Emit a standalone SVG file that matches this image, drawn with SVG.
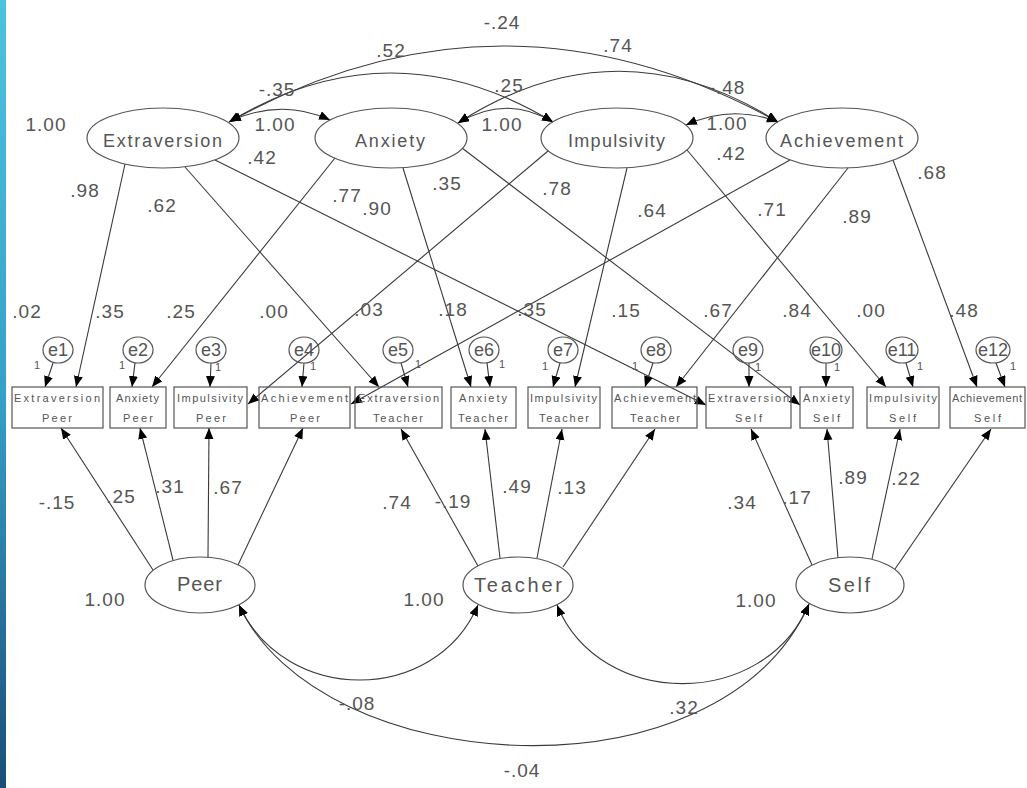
<svg xmlns="http://www.w3.org/2000/svg" width="1027" height="788" viewBox="0 0 1027 788">
<style>
.t{font-family:"Liberation Sans",Arial,sans-serif;fill:#555}
.n{font-size:19px;text-anchor:middle;letter-spacing:1px}
.fl{font-size:18px}
.ml{font-size:20px}
.ob{font-size:11px}
.el{font-size:18px;text-anchor:middle}
.one{font-size:11px;text-anchor:middle}
.sh{fill:none;stroke:#555;stroke-width:1.2}
.ln{fill:none;stroke:#3a3a3a;stroke-width:1.1}
.a{marker-end:url(#ah)}
.c{marker-end:url(#ah);marker-start:url(#ah)}
</style>
<defs>
<linearGradient id="bar" x1="0" y1="0" x2="0" y2="1">
<stop offset="0" stop-color="#4cc4de"/>
<stop offset="0.5" stop-color="#35a0c8"/>
<stop offset="1" stop-color="#1b4d7a"/>
</linearGradient>
<marker id="ah" markerUnits="userSpaceOnUse" markerWidth="12" markerHeight="10" refX="11" refY="4.5" orient="auto-start-reverse">
<path d="M0,0 L11,4.5 L0,9 z" fill="#000"/>
</marker>
</defs>
<rect x="0" y="0" width="1027" height="788" fill="#fff"/>
<rect x="0" y="0" width="6" height="788" fill="url(#bar)"/>

<g id="connectors">
<path class="ln c" d="M229,122 Q503,-30 778,122"/>
<path class="ln c" d="M229,122 Q391,24 553,122"/>
<path class="ln c" d="M458,123 Q618,20 778,122"/>
<path class="ln c" d="M230,121 Q282,98 330,120"/>
<path class="ln c" d="M458,123 Q506,94 553,122"/>
<path class="ln c" d="M686,125 Q732,104 778,122"/>
<line class="ln a" x1="125" y1="164" x2="76" y2="387"/>
<line class="ln a" x1="185" y1="167" x2="379" y2="387"/>
<line class="ln a" x1="215" y1="160" x2="706" y2="405"/>
<line class="ln a" x1="335" y1="158" x2="152" y2="387"/>
<line class="ln a" x1="403" y1="168" x2="471" y2="387"/>
<line class="ln a" x1="462" y1="148" x2="800" y2="405"/>
<line class="ln a" x1="548" y1="151" x2="248" y2="404"/>
<line class="ln a" x1="627" y1="168" x2="575" y2="387"/>
<line class="ln a" x1="687" y1="150" x2="886" y2="387"/>
<line class="ln a" x1="790" y1="160" x2="351" y2="404"/>
<line class="ln a" x1="848" y1="168" x2="676" y2="387"/>
<line class="ln a" x1="893" y1="160" x2="977" y2="387"/>
<line class="ln a" x1="53" y1="363" x2="45" y2="387"/>
<line class="ln a" x1="135" y1="363" x2="132" y2="387"/>
<line class="ln a" x1="211" y1="363" x2="210" y2="387"/>
<line class="ln a" x1="304" y1="363" x2="302" y2="387"/>
<line class="ln a" x1="401" y1="363" x2="408" y2="387"/>
<line class="ln a" x1="487" y1="363" x2="490" y2="387"/>
<line class="ln a" x1="560" y1="363" x2="553" y2="387"/>
<line class="ln a" x1="653" y1="363" x2="645" y2="387"/>
<line class="ln a" x1="749" y1="363" x2="749" y2="387"/>
<line class="ln a" x1="826" y1="363" x2="826" y2="387"/>
<line class="ln a" x1="906" y1="363" x2="913" y2="387"/>
<line class="ln a" x1="996" y1="363" x2="1005" y2="387"/>
<line class="ln a" x1="153" y1="570" x2="61" y2="428"/>
<line class="ln a" x1="173" y1="560" x2="140" y2="428"/>
<line class="ln a" x1="208" y1="557" x2="209" y2="428"/>
<line class="ln a" x1="238" y1="565" x2="303" y2="428"/>
<line class="ln a" x1="478" y1="566" x2="401" y2="429"/>
<line class="ln a" x1="500" y1="558" x2="485" y2="429"/>
<line class="ln a" x1="537" y1="558" x2="562" y2="429"/>
<line class="ln a" x1="563" y1="567" x2="655" y2="429"/>
<line class="ln a" x1="812" y1="565" x2="751" y2="429"/>
<line class="ln a" x1="838" y1="558" x2="827" y2="429"/>
<line class="ln a" x1="872" y1="559" x2="900" y2="429"/>
<line class="ln a" x1="895" y1="569" x2="991" y2="429"/>
<path class="ln c" d="M239,605 C285,705 435,705 478,605"/>
<path class="ln c" d="M557,605 C600,710 765,710 809,604"/>
<path class="ln c" d="M239,605 C320,780 720,805 809,604"/>
</g>

<g id="labels">
<text class="t n" x="502" y="29">-.24</text>
<text class="t n" x="391" y="57">.52</text>
<text class="t n" x="618" y="52">.74</text>
<text class="t n" x="277" y="96">-.35</text>
<text class="t n" x="509" y="92">.25</text>
<text class="t n" x="727" y="94">-.48</text>
<text class="t n" x="46" y="131">1.00</text>
<text class="t n" x="275" y="131">1.00</text>
<text class="t n" x="502" y="131">1.00</text>
<text class="t n" x="727" y="130">1.00</text>
<text class="t n" x="262" y="164">.42</text>
<text class="t n" x="731" y="160">.42</text>
<text class="t n" x="85" y="197">.98</text>
<text class="t n" x="162" y="212">.62</text>
<text class="t n" x="347" y="202">.77</text>
<text class="t n" x="377" y="215">.90</text>
<text class="t n" x="447" y="190">.35</text>
<text class="t n" x="557" y="195">.78</text>
<text class="t n" x="652" y="217">.64</text>
<text class="t n" x="772" y="216">.71</text>
<text class="t n" x="857" y="223">.89</text>
<text class="t n" x="932" y="179">.68</text>
<text class="t n" x="27" y="318">.02</text>
<text class="t n" x="110" y="318">.35</text>
<text class="t n" x="181" y="318">.25</text>
<text class="t n" x="274" y="318">.00</text>
<text class="t n" x="369" y="316">.03</text>
<text class="t n" x="453" y="316">.18</text>
<text class="t n" x="532" y="316">.35</text>
<text class="t n" x="626" y="317">.15</text>
<text class="t n" x="718" y="317">.67</text>
<text class="t n" x="797" y="317">.84</text>
<text class="t n" x="871" y="317">.00</text>
<text class="t n" x="964" y="317">.48</text>
<text class="t n" x="57" y="509">-.15</text>
<text class="t n" x="121" y="503">.25</text>
<text class="t n" x="170" y="493">.31</text>
<text class="t n" x="228" y="494">.67</text>
<text class="t n" x="397" y="509">.74</text>
<text class="t n" x="453" y="508">-.19</text>
<text class="t n" x="517" y="493">.49</text>
<text class="t n" x="572" y="494">.13</text>
<text class="t n" x="742" y="509">.34</text>
<text class="t n" x="797" y="504">.17</text>
<text class="t n" x="853" y="484">.89</text>
<text class="t n" x="906" y="485">.22</text>
<text class="t n" x="105" y="606">1.00</text>
<text class="t n" x="424" y="606">1.00</text>
<text class="t n" x="756" y="607">1.00</text>
<text class="t n" x="357" y="710">-.08</text>
<text class="t n" x="684" y="714">.32</text>
<text class="t n" x="522" y="777">-.04</text>
<text class="t one" x="37" y="369">1</text>
<text class="t one" x="122" y="369">1</text>
<text class="t one" x="218" y="371">1</text>
<text class="t one" x="313" y="370">1</text>
<text class="t one" x="418" y="368">1</text>
<text class="t one" x="502" y="368">1</text>
<text class="t one" x="545" y="370">1</text>
<text class="t one" x="635" y="370">1</text>
<text class="t one" x="758" y="371">1</text>
<text class="t one" x="837" y="371">1</text>
<text class="t one" x="920" y="370">1</text>
<text class="t one" x="1013" y="370">1</text>
</g>

<g id="Extraversion"><ellipse class="sh" cx="163" cy="138" rx="76" ry="30"/><text class="t fl" x="103" y="147" textLength="119" lengthAdjust="spacing">Extraversion</text></g>
<g id="Anxiety"><ellipse class="sh" cx="391" cy="138" rx="76" ry="30"/><text class="t fl" x="355" y="147" textLength="70" lengthAdjust="spacing">Anxiety</text></g>
<g id="Impulsivity"><ellipse class="sh" cx="617" cy="138" rx="76" ry="30"/><text class="t fl" x="568" y="147" textLength="97" lengthAdjust="spacing">Impulsivity</text></g>
<g id="Achievement"><ellipse class="sh" cx="842" cy="138" rx="76" ry="30"/><text class="t fl" x="780" y="147" textLength="123" lengthAdjust="spacing">Achievement</text></g>

<g id="Peer"><ellipse class="sh" cx="200" cy="585" rx="55" ry="28"/><text class="t ml" x="177" y="591" textLength="45" lengthAdjust="spacing">Peer</text></g>
<g id="Teacher"><ellipse class="sh" cx="518" cy="585" rx="55" ry="28"/><text class="t ml" x="474" y="592" textLength="88" lengthAdjust="spacing">Teacher</text></g>
<g id="Self"><ellipse class="sh" cx="850" cy="585" rx="54" ry="28"/><text class="t ml" x="828" y="592" textLength="42" lengthAdjust="spacing">Self</text></g>

<g id="e1"><ellipse class="sh" cx="58" cy="350" rx="15" ry="13"/><text class="t el" x="58" y="356">e1</text></g>
<g id="e2"><ellipse class="sh" cx="138" cy="350" rx="15" ry="13"/><text class="t el" x="138" y="356">e2</text></g>
<g id="e3"><ellipse class="sh" cx="211" cy="350" rx="15" ry="13"/><text class="t el" x="211" y="356">e3</text></g>
<g id="e4"><ellipse class="sh" cx="304" cy="350" rx="15" ry="13"/><text class="t el" x="304" y="356">e4</text></g>
<g id="e5"><ellipse class="sh" cx="398" cy="350" rx="15" ry="13"/><text class="t el" x="398" y="356">e5</text></g>
<g id="e6"><ellipse class="sh" cx="484" cy="350" rx="15" ry="13"/><text class="t el" x="484" y="356">e6</text></g>
<g id="e7"><ellipse class="sh" cx="563" cy="350" rx="15" ry="13"/><text class="t el" x="563" y="356">e7</text></g>
<g id="e8"><ellipse class="sh" cx="656" cy="350" rx="15" ry="13"/><text class="t el" x="656" y="356">e8</text></g>
<g id="e9"><ellipse class="sh" cx="748" cy="350" rx="15" ry="13"/><text class="t el" x="748" y="356">e9</text></g>
<g id="e10"><ellipse class="sh" cx="826" cy="350" rx="16" ry="13"/><text class="t el" x="826" y="356">e10</text></g>
<g id="e11"><ellipse class="sh" cx="902" cy="350" rx="16" ry="13"/><text class="t el" x="902" y="356">e11</text></g>
<g id="e12"><ellipse class="sh" cx="993" cy="350" rx="17" ry="13"/><text class="t el" x="993" y="356">e12</text></g>

<g id="ExtraversionPeer"><rect class="sh" x="12" y="387" width="91" height="41"/><text class="t ob" x="14" y="402" textLength="86" lengthAdjust="spacing">Extraversion</text><text class="t ob" x="42" y="422" textLength="30" lengthAdjust="spacing">Peer</text></g>
<g id="AnxietyPeer"><rect class="sh" x="110" y="387" width="56" height="41"/><text class="t ob" x="116" y="402" textLength="43" lengthAdjust="spacing">Anxiety</text><text class="t ob" x="123" y="422" textLength="30" lengthAdjust="spacing">Peer</text></g>
<g id="ImpulsivityPeer"><rect class="sh" x="174" y="387" width="73" height="41"/><text class="t ob" x="177" y="402" textLength="66" lengthAdjust="spacing">Impulsivity</text><text class="t ob" x="196" y="422" textLength="30" lengthAdjust="spacing">Peer</text></g>
<g id="AchievementPeer"><rect class="sh" x="259" y="387" width="91" height="41"/><text class="t ob" x="261" y="402" textLength="87" lengthAdjust="spacing">Achievement</text><text class="t ob" x="290" y="422" textLength="30" lengthAdjust="spacing">Peer</text></g>
<g id="ExtraversionTeacher"><rect class="sh" x="355" y="387" width="87" height="41"/><text class="t ob" x="358" y="402" textLength="81" lengthAdjust="spacing">Extraversion</text><text class="t ob" x="373" y="422" textLength="50" lengthAdjust="spacing">Teacher</text></g>
<g id="AnxietyTeacher"><rect class="sh" x="451" y="387" width="65" height="41"/><text class="t ob" x="459" y="402" textLength="48" lengthAdjust="spacing">Anxiety</text><text class="t ob" x="458" y="422" textLength="50" lengthAdjust="spacing">Teacher</text></g>
<g id="ImpulsivityTeacher"><rect class="sh" x="528" y="387" width="72" height="41"/><text class="t ob" x="530" y="402" textLength="67" lengthAdjust="spacing">Impulsivity</text><text class="t ob" x="539" y="422" textLength="50" lengthAdjust="spacing">Teacher</text></g>
<g id="AchievementTeacher"><rect class="sh" x="612" y="387" width="85" height="41"/><text class="t ob" x="614" y="402" textLength="82" lengthAdjust="spacing">Achievement</text><text class="t ob" x="630" y="422" textLength="50" lengthAdjust="spacing">Teacher</text></g>
<g id="ExtraversionSelf"><rect class="sh" x="706" y="387" width="85" height="41"/><text class="t ob" x="708" y="402" textLength="81" lengthAdjust="spacing">Extraversion</text><text class="t ob" x="735" y="422" textLength="27" lengthAdjust="spacing">Self</text></g>
<g id="AnxietySelf"><rect class="sh" x="800" y="387" width="53" height="41"/><text class="t ob" x="803" y="402" textLength="47" lengthAdjust="spacing">Anxiety</text><text class="t ob" x="813" y="422" textLength="27" lengthAdjust="spacing">Self</text></g>
<g id="ImpulsivitySelf"><rect class="sh" x="867" y="387" width="72" height="41"/><text class="t ob" x="869" y="402" textLength="68" lengthAdjust="spacing">Impulsivity</text><text class="t ob" x="889" y="422" textLength="27" lengthAdjust="spacing">Self</text></g>
<g id="AchievementSelf"><rect class="sh" x="950" y="387" width="75" height="41"/><text class="t ob" x="952" y="402" textLength="70" lengthAdjust="spacing">Achievement</text><text class="t ob" x="974" y="422" textLength="27" lengthAdjust="spacing">Self</text></g>
</svg>
